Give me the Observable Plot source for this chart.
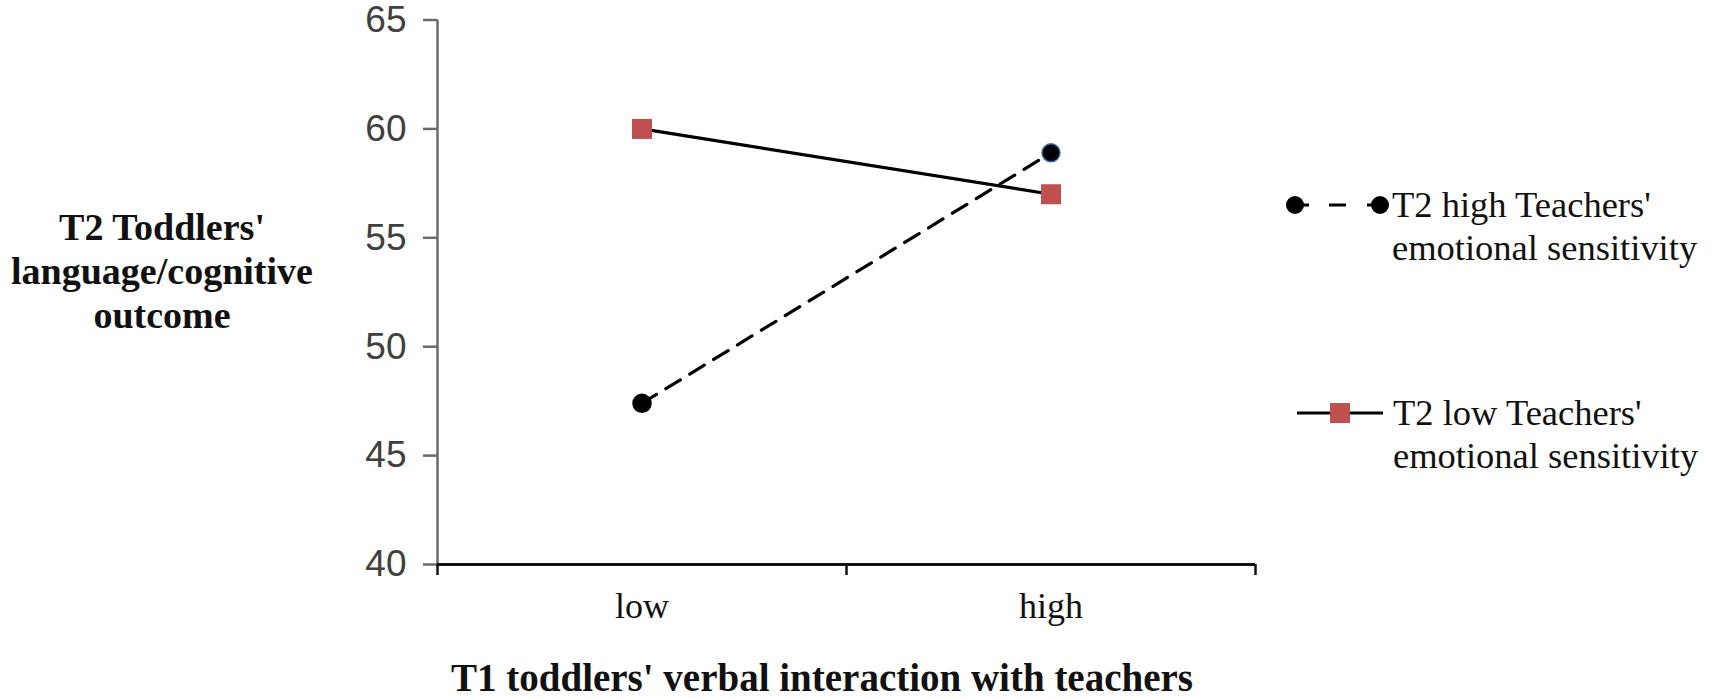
<!DOCTYPE html>
<html>
<head>
<meta charset="utf-8">
<script src="https://cdn.jsdelivr.net/npm/d3@7"></script>
<script src="https://cdn.jsdelivr.net/npm/@observablehq/plot@0.6"></script>
<style>
  html, body { margin: 0; padding: 0; background: #fff; }
  #wrap { position: relative; width: 1713px; height: 698px; overflow: hidden; background: #fff; }
  #wrap svg.plot { position: absolute; left: 0; top: 0; }
  .serif { font-family: "Liberation Serif", "Times New Roman", serif; color: #111; position: absolute; white-space: nowrap; }
  .ytitle { left: 0; width: 324px; top: 205px; text-align: center; font-weight: bold; font-size: 38px; line-height: 44px; }
  .xtitle { left: 422px; width: 800px; top: 658px; text-align: center; font-weight: bold; font-size: 39px; line-height: 39px; }
  .legtext { font-size: 36.5px; line-height: 43px; }
  .swatch { position: absolute; overflow: visible; }
</style>
</head>
<body>
<div id="wrap"></div>
<script>
// ---- data ----
const categories = ["low", "high"];
const seriesNames = ["T2 high Teachers' emotional sensitivity", "T2 low Teachers' emotional sensitivity"];
const highSensitivity = [47.4, 58.9];
const lowSensitivity = [60.0, 57.0];
const yTicks = [40, 45, 50, 55, 60, 65];
const yTitle = ["T2 Toddlers'", "language/cognitive", "outcome"];
const xTitle = "T1 toddlers' verbal interaction with teachers";
const legendLines = [["T2 high Teachers'", "emotional sensitivity"], ["T2 low Teachers'", "emotional sensitivity"]];

const highData = categories.map((c, i) => ({cat: c, pos: i + 0.5, value: highSensitivity[i]}));
const lowData = categories.map((c, i) => ({cat: c, pos: i + 0.5, value: lowSensitivity[i]}));

const chart = Plot.plot({
  width: 1713,
  height: 698,
  marginLeft: 437,
  marginRight: 458,
  marginTop: 19.5,
  marginBottom: 134,
  x: {domain: [0, categories.length], axis: null, label: null},
  y: {domain: [yTicks[0], yTicks[yTicks.length - 1]], axis: null, label: null},
  style: {background: "white", fontFamily: "'Liberation Sans', Arial, sans-serif", overflow: "visible"},
  marks: [
    // y axis ticks + labels
    Plot.axisY({ticks: yTicks, tickSize: 14, tickPadding: 17, tickFormat: d => String(d), label: null,
      fontSize: 37, fill: "#404040", stroke: "#6a6a6a", strokeWidth: 2.5}),
    // x axis boundary ticks
    Plot.axisX({ticks: d3.range(categories.length + 1), tickSize: 11, tickFormat: () => "", label: null,
      stroke: "#111", strokeWidth: 2.5}),
    // x category labels
    Plot.axisX({ticks: categories.map((c, i) => i + 0.5), tickSize: 0, tickPadding: 28, label: null,
      tickFormat: d => categories[Math.floor(d)], fontSize: 36, fill: "#111",
      fontFamily: "'Liberation Serif', 'Times New Roman', serif"}),
    // axis lines
    Plot.ruleX([0], {stroke: "#6a6a6a", strokeWidth: 2.5}),
    Plot.ruleY([yTicks[0]], {stroke: "#111", strokeWidth: 3}),
    // series
    Plot.line(highData, {x: "pos", y: "value", stroke: "#000", strokeWidth: 3.2, strokeDasharray: "17,11"}),
    Plot.line(lowData, {x: "pos", y: "value", stroke: "#000", strokeWidth: 3.2}),
    Plot.dot(highData, {x: "pos", y: "value", symbol: "circle", r: 9, fill: "#000",
      stroke: d => d.cat === "high" ? "#3e6ba6" : "#000", strokeWidth: 1.5}),
    Plot.dot(lowData, {x: "pos", y: "value", symbol: "square", r: 11.3, fill: "#c0504d", stroke: "none"})
  ]
});
chart.classList.add("plot");
const wrap = document.getElementById("wrap");
wrap.appendChild(chart);

// y title
const yt = document.createElement("div");
yt.className = "serif ytitle";
yt.innerHTML = yTitle.map(s => s.replace(/&/g, "&amp;")).join("<br>");
wrap.appendChild(yt);

// x title
const xt = document.createElement("div");
xt.className = "serif xtitle";
xt.textContent = xTitle;
wrap.appendChild(xt);

// legend
const NS = "http://www.w3.org/2000/svg";
function legendItem(kind, swLeft, swTop, textLeft, textTop, lines) {
  const svg = document.createElementNS(NS, "svg");
  svg.setAttribute("class", "swatch");
  svg.setAttribute("width", 110);
  svg.setAttribute("height", 30);
  svg.style.left = swLeft + "px";
  svg.style.top = swTop + "px";
  if (kind === "dashed") {
    const l = document.createElementNS(NS, "line");
    l.setAttribute("x1", 10); l.setAttribute("x2", 95); l.setAttribute("y1", 15); l.setAttribute("y2", 15);
    l.setAttribute("stroke", "#000"); l.setAttribute("stroke-width", 3.2);
    l.setAttribute("stroke-dasharray", "14,20,17,21,20");
    svg.appendChild(l);
    for (const cx of [10, 95]) {
      const c = document.createElementNS(NS, "circle");
      c.setAttribute("cx", cx); c.setAttribute("cy", 15); c.setAttribute("r", 9); c.setAttribute("fill", "#000");
      svg.appendChild(c);
    }
  } else {
    const l = document.createElementNS(NS, "line");
    l.setAttribute("x1", 12); l.setAttribute("x2", 98); l.setAttribute("y1", 15); l.setAttribute("y2", 15);
    l.setAttribute("stroke", "#000"); l.setAttribute("stroke-width", 3.2);
    svg.appendChild(l);
    const r = document.createElementNS(NS, "rect");
    r.setAttribute("x", 45); r.setAttribute("y", 5); r.setAttribute("width", 20); r.setAttribute("height", 20);
    r.setAttribute("fill", "#c0504d");
    svg.appendChild(r);
  }
  wrap.appendChild(svg);
  const t = document.createElement("div");
  t.className = "serif legtext";
  t.style.left = textLeft + "px";
  t.style.top = textTop + "px";
  t.innerHTML = lines.join("<br>");
  wrap.appendChild(t);
}
legendItem("dashed", 1285, 190, 1392, 183, legendLines[0]);
legendItem("solid", 1285, 398, 1393, 391, legendLines[1]);
</script>
</body>
</html>
